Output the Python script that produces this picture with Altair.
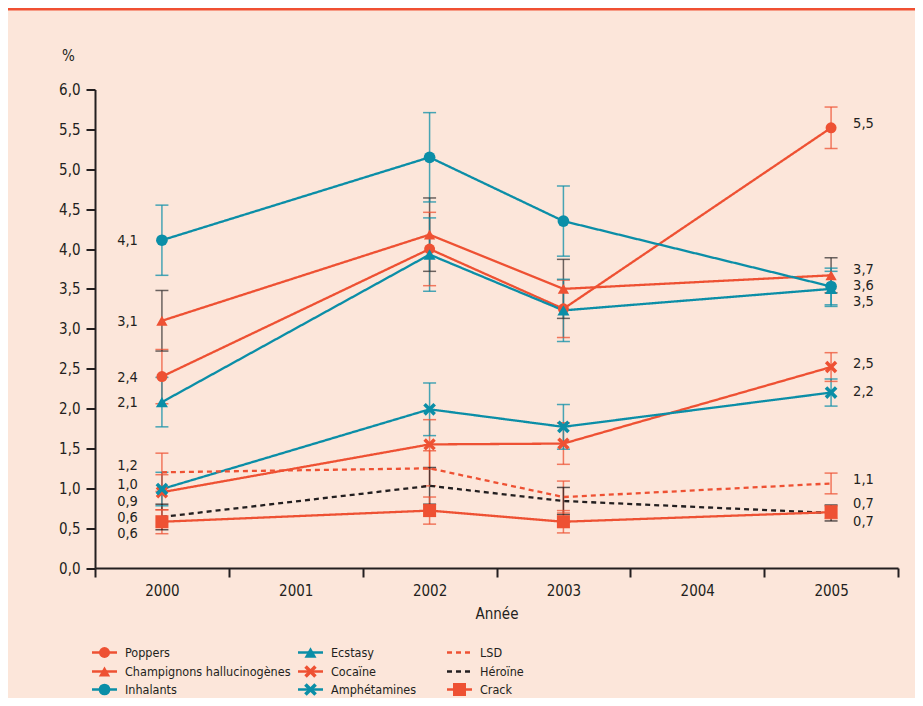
import altair as alt
import pandas as pd

# ---------------- data ----------------
years_all = ["2000", "2001", "2002", "2003", "2004", "2005"]
years = ["2000", "2002", "2003", "2005"]

series_names = ["Poppers", "Champignons hallucinogènes", "Inhalants",
                "Ecstasy", "Cocaïne", "Amphétamines",
                "LSD", "Héroïne", "Crack"]

poppers = [2.40, 4.00, 3.25, 5.52]
champignons = [3.10, 4.18, 3.50, 3.67]
inhalants = [4.11, 5.15, 4.35, 3.53]
ecstasy = [2.08, 3.93, 3.23, 3.50]
cocaine = [0.95, 1.55, 1.56, 2.52]
amphetamines = [0.99, 1.99, 1.77, 2.20]
lsd = [1.20, 1.25, 0.89, 1.06]
heroine = [0.64, 1.03, 0.84, 0.69]
crack = [0.58, 0.72, 0.58, 0.70]

poppers_err = [0.34, 0.46, 0.36, 0.26]
champignons_err = [0.38, 0.46, 0.37, 0.22]
inhalants_err = [0.44, 0.56, 0.44, 0.23]
ecstasy_err = [0.31, 0.46, 0.39, 0.22]
cocaine_err = [0.22, 0.31, 0.26, 0.18]
amphetamines_err = [0.21, 0.33, 0.28, 0.17]
lsd_err = [0.24, 0.22, 0.20, 0.13]
heroine_err = [0.16, 0.23, 0.17, 0.10]
crack_err = [0.15, 0.17, 0.14, 0.08]

# value labels shown at 2000 (left) and 2005 (right)
left_labels = ["2,4", "3,1", "4,1", "2,1", "0,9", "1,0", "1,2", "0,6", "0,6"]
right_labels = ["5,5", "3,7", "3,6", "3,5", "2,5", "2,2", "1,1", "0,7", "0,7"]
# label anchor heights (layout, in axis units) so labels do not overlap
left_label_pos = [2.38, 3.08, 4.10, 2.07, 0.83, 1.04, 1.28, 0.63, 0.43]
right_label_pos = [5.57, 3.74, 3.54, 3.34, 2.56, 2.21, 1.10, 0.80, 0.58]

values = dict(zip(series_names, [poppers, champignons, inhalants, ecstasy, cocaine,
                                 amphetamines, lsd, heroine, crack]))
errors = dict(zip(series_names, [poppers_err, champignons_err, inhalants_err, ecstasy_err,
                                 cocaine_err, amphetamines_err, lsd_err, heroine_err, crack_err]))

# ---------------- styles ----------------
ORANGE = "#EE5133"
TEAL = "#0B8EA7"
DARK = "#231F20"
BG = "#FCE6DA"
FONT = "DejaVu Sans Condensed, Open Sans, sans-serif"

series_colors = [ORANGE, ORANGE, TEAL, TEAL, ORANGE, TEAL, ORANGE, DARK, ORANGE]
err_colors = [ORANGE, "#3A3535", TEAL, TEAL, ORANGE, TEAL, ORANGE, DARK, ORANGE]
dashes = [[1, 0]] * 6 + [[5, 4], [5, 4], [1, 0]]
XPATH = "M-1,-0.6L-0.6,-1L0,-0.4L0.6,-1L1,-0.6L0.4,0L1,0.6L0.6,1L0,0.4L-0.6,1L-1,0.6L-0.4,0Z"
marker_series = ["Poppers", "Champignons hallucinogènes", "Inhalants", "Ecstasy",
                 "Cocaïne", "Amphétamines", "Crack"]
marker_shapes = ["circle", "triangle-up", "circle", "triangle-up", XPATH, XPATH, "square"]
marker_sizes = [120, 170, 120, 170, 130, 130, 110]

rows = []
for s, ec in zip(series_names, err_colors):
    for i, y in enumerate(years):
        v, e = values[s][i], errors[s][i]
        rows.append(dict(series=s, year=y, value=v, lo=v - e, hi=v + e, errcolor=ec))
df = pd.DataFrame(rows)

lab_rows = []
for i, s in enumerate(series_names):
    lab_rows.append(dict(series=s, year="2000", text=left_labels[i], pos=left_label_pos[i], side="L"))
    lab_rows.append(dict(series=s, year="2005", text=right_labels[i], pos=right_label_pos[i], side="R"))
lab_df = pd.DataFrame(lab_rows)

# legend table (3 columns, column-major)
leg_rows = []
col_x = [-3, 203, 352]
row_y = [563, 582, 600]
for i, s in enumerate(series_names):
    c, r = i // 3, i % 3
    leg_rows.append(dict(series=s, x0=col_x[c], x1=col_x[c] + 25, xm=col_x[c] + 12.5,
                         xt=col_x[c] + 33, y=row_y[r]))
leg_df = pd.DataFrame(leg_rows)

W, H = 803, 478.5

xenc = alt.X("year:O", scale=alt.Scale(type="band", domain=years_all, paddingInner=0, paddingOuter=0),
             axis=alt.Axis(title="Année", labelAngle=0, tickBand="extent", tickSize=9, tickWidth=2,
                           domainWidth=2, tickColor=DARK, domainColor=DARK, labelColor=DARK,
                           labelFont=FONT, labelFontSize=15, labelPadding=6,
                           titleFont=FONT, titleFontSize=15, titleFontWeight="normal",
                           titleColor=DARK, titlePadding=8))
yscale = alt.Scale(domain=[0, 6], nice=False, zero=True)
yaxis = alt.Axis(title="%", titleAngle=0, titleX=-27, titleY=-34, titleAlign="center",
                 titleBaseline="middle", titleFont=FONT, titleFontSize=15,
                 titleFontWeight="normal", titleColor=DARK,
                 values=[0, 0.5, 1, 1.5, 2, 2.5, 3, 3.5, 4, 4.5, 5, 5.5, 6], labelOverlap=False,
                 labelExpr="replace(format(datum.value, '.1f'), '.', ',')",
                 tickSize=9, tickWidth=2, domainWidth=2, tickColor=DARK,
                 domainColor=DARK, labelColor=DARK, labelFont=FONT,
                 labelFontSize=15, labelPadding=6, grid=False)


def Y(field):
    return alt.Y(field, scale=yscale, axis=yaxis, title="%")


color_scale = alt.Scale(domain=series_names, range=series_colors)
dash_scale = alt.Scale(domain=series_names, range=dashes)
shape_scale = alt.Scale(domain=marker_series, range=marker_shapes)
size_scale = alt.Scale(domain=marker_series, range=marker_sizes)

base = alt.Chart(df)

lines = base.mark_line(strokeWidth=2.3).encode(
    x=xenc, y=Y("value:Q"),
    color=alt.Color("series:N", scale=color_scale, legend=None),
    strokeDash=alt.StrokeDash("series:N", scale=dash_scale, legend=None),
    detail="series:N")

err_rule = base.mark_rule(strokeWidth=1.5, opacity=0.75).encode(
    x=xenc, y=Y("lo:Q"), y2="hi:Q",
    color=alt.Color("errcolor:N", scale=None))
err_caps = base.transform_fold(["lo", "hi"], as_=["end", "yv"]).mark_tick(
    size=13, thickness=1.5, opacity=0.75).encode(
    x=xenc, y=Y("yv:Q"), color=alt.Color("errcolor:N", scale=None))

points = base.transform_filter(alt.FieldOneOfPredicate(field="series", oneOf=marker_series)).mark_point(
    filled=True, opacity=1).encode(
    x=xenc, y=Y("value:Q"),
    color=alt.Color("series:N", scale=color_scale, legend=None),
    shape=alt.Shape("series:N", scale=shape_scale, legend=None),
    size=alt.Size("series:N", scale=size_scale, legend=None))

lab_base = alt.Chart(lab_df)
left_text = lab_base.transform_filter("datum.side == 'L'").mark_text(
    align="right", baseline="middle", dx=-24, font=FONT, fontSize=14.5, color=DARK).encode(
    x=xenc, y=Y("pos:Q"), text="text:N")
right_text = lab_base.transform_filter("datum.side == 'R'").mark_text(
    align="left", baseline="middle", dx=22, font=FONT, fontSize=14.5, color=DARK).encode(
    x=xenc, y=Y("pos:Q"), text="text:N")

leg = alt.Chart(leg_df)
leg_lines = leg.mark_rule(strokeWidth=2.3).encode(
    x=alt.X("x0:Q", scale=None), x2="x1:Q", y=alt.Y("y:Q", scale=None),
    color=alt.Color("series:N", scale=color_scale, legend=None),
    strokeDash=alt.StrokeDash("series:N", scale=dash_scale, legend=None))
leg_points = leg.transform_filter(alt.FieldOneOfPredicate(field="series", oneOf=marker_series)).mark_point(
    filled=True, opacity=1).encode(
    x=alt.X("xm:Q", scale=None), y=alt.Y("y:Q", scale=None),
    color=alt.Color("series:N", scale=color_scale, legend=None),
    shape=alt.Shape("series:N", scale=shape_scale, legend=None),
    size=alt.Size("series:N", scale=size_scale, legend=None))
leg_text = leg.mark_text(align="left", baseline="middle", font=FONT, fontSize=12.5, color=DARK).encode(
    x=alt.X("xt:Q", scale=None), y=alt.Y("y:Q", scale=None), text="series:N")

band = alt.Chart(pd.DataFrame({"a": [0]})).mark_rect(color="#F05032").encode(
    x=alt.value(-87), x2=alt.value(W + 17), y=alt.value(-81.5), y2=alt.value(-79.0))

chart = alt.layer(
    band, err_rule, err_caps, lines, points, left_text, right_text,
    leg_lines, leg_points, leg_text
).properties(
    width=W, height=H, background=BG, autosize="none",
    padding={"left": 87, "top": 81.5, "right": 17, "bottom": 130}
).configure_view(stroke=None)

chart.save("out.html", embed_options={"renderer": "svg", "actions": False})
